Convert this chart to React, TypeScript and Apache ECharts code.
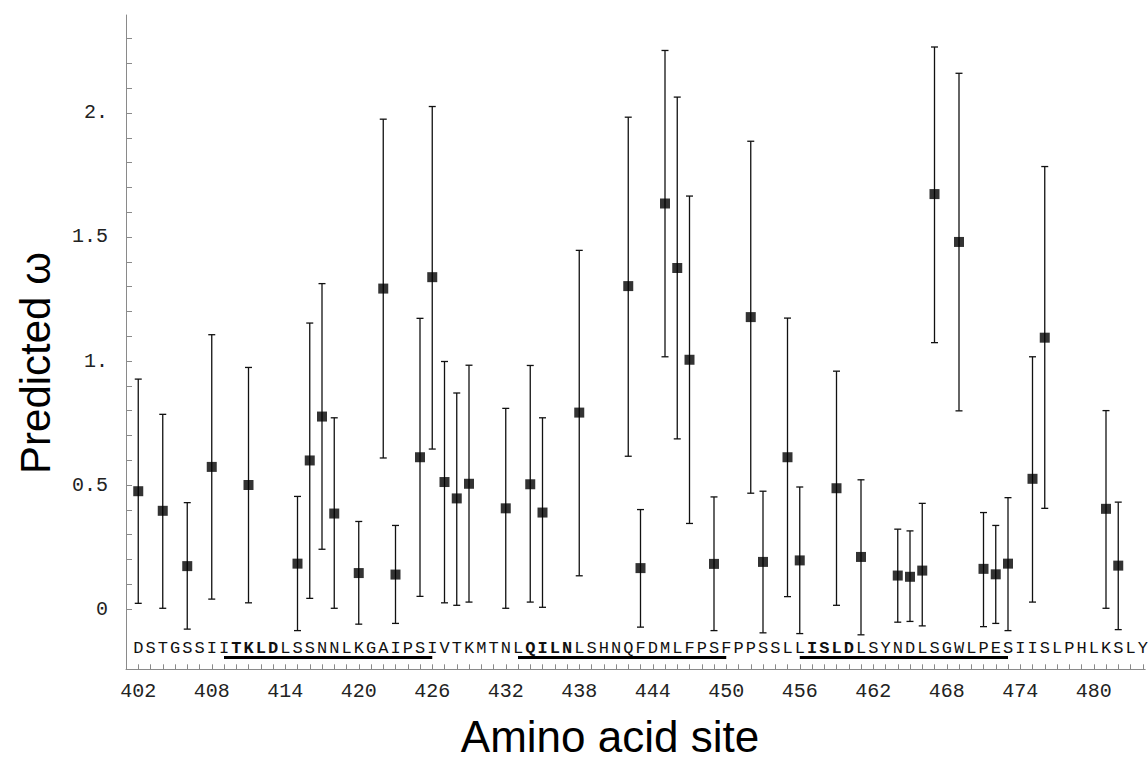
import React, { useEffect, useRef } from "react";
import * as echarts from "echarts";

// ---- data ----
const sites = [402, 404, 406, 408, 411, 415, 416, 417, 418, 420, 422, 423, 425, 426, 427, 428, 429, 432, 434, 435, 438, 442, 443, 445, 446, 447, 449, 452, 453, 455, 456, 459, 461, 464, 465, 466, 467, 469, 471, 472, 473, 475, 476, 481, 482];
const omega = [0.475, 0.396, 0.173, 0.573, 0.5, 0.183, 0.599, 0.776, 0.385, 0.145, 1.292, 0.139, 0.612, 1.338, 0.512, 0.446, 0.505, 0.406, 0.503, 0.389, 0.792, 1.302, 0.165, 1.635, 1.375, 1.005, 0.182, 1.177, 0.19, 0.612, 0.196, 0.487, 0.21, 0.135, 0.13, 0.155, 1.673, 1.48, 0.162, 0.14, 0.183, 0.525, 1.094, 0.404, 0.175];
const upper = [0.927, 0.785, 0.429, 1.106, 0.974, 0.454, 1.153, 1.312, 0.771, 0.353, 1.975, 0.337, 1.172, 2.026, 0.998, 0.871, 0.983, 0.809, 0.982, 0.771, 1.446, 1.983, 0.401, 2.252, 2.064, 1.665, 0.452, 1.886, 0.475, 1.173, 0.492, 0.959, 0.521, 0.322, 0.315, 0.426, 2.266, 2.16, 0.389, 0.337, 0.449, 1.017, 1.784, 0.8, 0.431];
const lower = [0.023, 0.003, -0.081, 0.04, 0.025, -0.087, 0.043, 0.241, 0.003, -0.061, 0.609, -0.058, 0.051, 0.645, 0.025, 0.015, 0.028, 0.003, 0.028, 0.007, 0.134, 0.616, -0.073, 1.017, 0.686, 0.345, -0.087, 0.467, -0.096, 0.05, -0.099, 0.015, -0.104, -0.053, -0.05, -0.068, 1.074, 0.799, -0.071, -0.058, -0.087, 0.028, 0.406, 0.003, -0.083];

const sequenceStart = 402;
const sequence = "DSTGSSIITKLDLSSNNLKGAIPSIVTKMTNLQILNLSHNQFDMLFPSFPPSSLLISLDLSYNDLSGWLPESIISLPHLKSLY";
const boldMotifs = [[410, 413], [434, 437], [457, 460]];
const underlines = [[409, 426], [433, 450], [456, 473]];

const xTickLabels = [402, 408, 414, 420, 426, 432, 438, 444, 450, 456, 462, 468, 474, 480];
const yTickValues = [0, 0.5, 1, 1.5, 2];
const yTickLabels = ["0", "0.5", "1.", "1.5", "2."];

const xTitle = "Amino acid site";
const yTitle = "Predicted ω";

const AXIS_COLOR = "#8a8a8a";
const MONO = "'Liberation Mono', 'DejaVu Sans Mono', monospace";
const SANS = "'Liberation Sans', Arial, sans-serif";

export default function App() {
  const ref = useRef<HTMLDivElement>(null);

  useEffect(() => {
    if (!ref.current) return;
    const chart = echarts.init(ref.current, null, { renderer: "svg" });

    const seqData = sequence.split("").map((ch, i) => [sequenceStart + i, ch]);
    const seqSites = seqData.map((d) => d[0] as number);
    const yMinor: number[] = [];
    for (let i = 0; i <= 23; i++) yMinor.push(Math.round(i * 10) / 100);

    const isBold = (s: number) => boldMotifs.some(([a, b]) => s >= a && s <= b);

    const option: any = {
      animation: false,
      backgroundColor: "#ffffff",
      grid: { left: 126, top: 15, width: 1019.2, height: 654.3, containLabel: false },
      xAxis: {
        type: "value",
        min: 401,
        max: 484.2,
        axisLine: { show: true, onZero: false, lineStyle: { color: AXIS_COLOR, width: 1 } },
        axisTick: { show: true, inside: true, length: 5, customValues: seqSites, lineStyle: { color: AXIS_COLOR, width: 1 } },
        axisLabel: {
          customValues: xTickLabels,
          margin: 12,
          fontFamily: MONO,
          fontSize: 20,
          color: "#222",
          formatter: (v: number) => String(v),
        },
        splitLine: { show: false },
      },
      yAxis: {
        type: "value",
        min: -0.243,
        max: 2.395,
        axisLine: { show: true, onZero: false, lineStyle: { color: AXIS_COLOR, width: 1 } },
        axisTick: { show: true, inside: true, length: 6, customValues: yMinor, lineStyle: { color: AXIS_COLOR, width: 1 } },
        axisLabel: {
          customValues: yTickValues,
          margin: 18,
          fontFamily: MONO,
          fontSize: 20,
          color: "#222",
          formatter: (v: number) => {
            const i = yTickValues.findIndex((t) => Math.abs(t - v) < 1e-6);
            return i >= 0 ? yTickLabels[i] : "";
          },
        },
        splitLine: { show: false },
      },
      graphic: [
        {
          type: "text",
          x: 610,
          y: 736,
          style: { text: xTitle, font: `44px ${SANS}`, fill: "#000", align: "center", verticalAlign: "middle" },
          z: 10,
        },
        {
          type: "text",
          x: 35,
          y: 363,
          rotation: Math.PI / 2,
          style: { text: yTitle, font: `42px ${SANS}`, fill: "#000", align: "center", verticalAlign: "middle" },
          z: 10,
        },
      ],
      series: [
        {
          type: "custom",
          name: "errorbars",
          clip: false,
          data: sites.map((s, i) => [s, lower[i], upper[i]]),
          renderItem: (params: any, api: any) => {
            const lo = api.coord([api.value(0), api.value(1)]);
            const hi = api.coord([api.value(0), api.value(2)]);
            const hw = 3.5;
            const st = { stroke: "#111", lineWidth: 1.3 };
            return {
              type: "group",
              children: [
                { type: "line", shape: { x1: lo[0], y1: lo[1], x2: hi[0], y2: hi[1] }, style: st },
                { type: "line", shape: { x1: lo[0] - hw, y1: lo[1], x2: lo[0] + hw, y2: lo[1] }, style: st },
                { type: "line", shape: { x1: hi[0] - hw, y1: hi[1], x2: hi[0] + hw, y2: hi[1] }, style: st },
              ],
            };
          },
          z: 2,
        },
        {
          type: "scatter",
          name: "omega",
          data: sites.map((s, i) => [s, omega[i]]),
          symbol: "rect",
          symbolSize: 10,
          itemStyle: { color: "#000" },
          z: 3,
        },
        {
          type: "custom",
          name: "sequence",
          clip: false,
          data: seqData,
          renderItem: (params: any, api: any) => {
            const site = api.value(0);
            const p = api.coord([site, 0]);
            const cs = params.coordSys;
            const y = cs.y + cs.height - 21;
            return {
              type: "text",
              x: p[0],
              y: y,
              style: {
                text: sequence.charAt(site - sequenceStart),
                fontFamily: MONO,
                fontSize: 17,
                fontWeight: isBold(site) ? "bold" : "normal",
                fill: "#111",
                align: "center",
                verticalAlign: "middle",
              },
            };
          },
          z: 2,
        },
        {
          type: "custom",
          name: "underlines",
          clip: false,
          data: underlines,
          renderItem: (params: any, api: any) => {
            const a = api.coord([api.value(0), 0]);
            const b = api.coord([api.value(1), 0]);
            const cs = params.coordSys;
            const y = cs.y + cs.height - 13.3;
            return {
              type: "rect",
              shape: { x: a[0], y: y, width: b[0] - a[0], height: 3 },
              style: { fill: "#000" },
            };
          },
          z: 2,
        },
      ],
    };

    chart.setOption(option);
    return () => chart.dispose();
  }, []);

  return (
    <div
      ref={ref}
      style={{ position: "fixed", left: 0, top: 0, width: 1148, height: 760, background: "#fff" }}
    />
  );
}
